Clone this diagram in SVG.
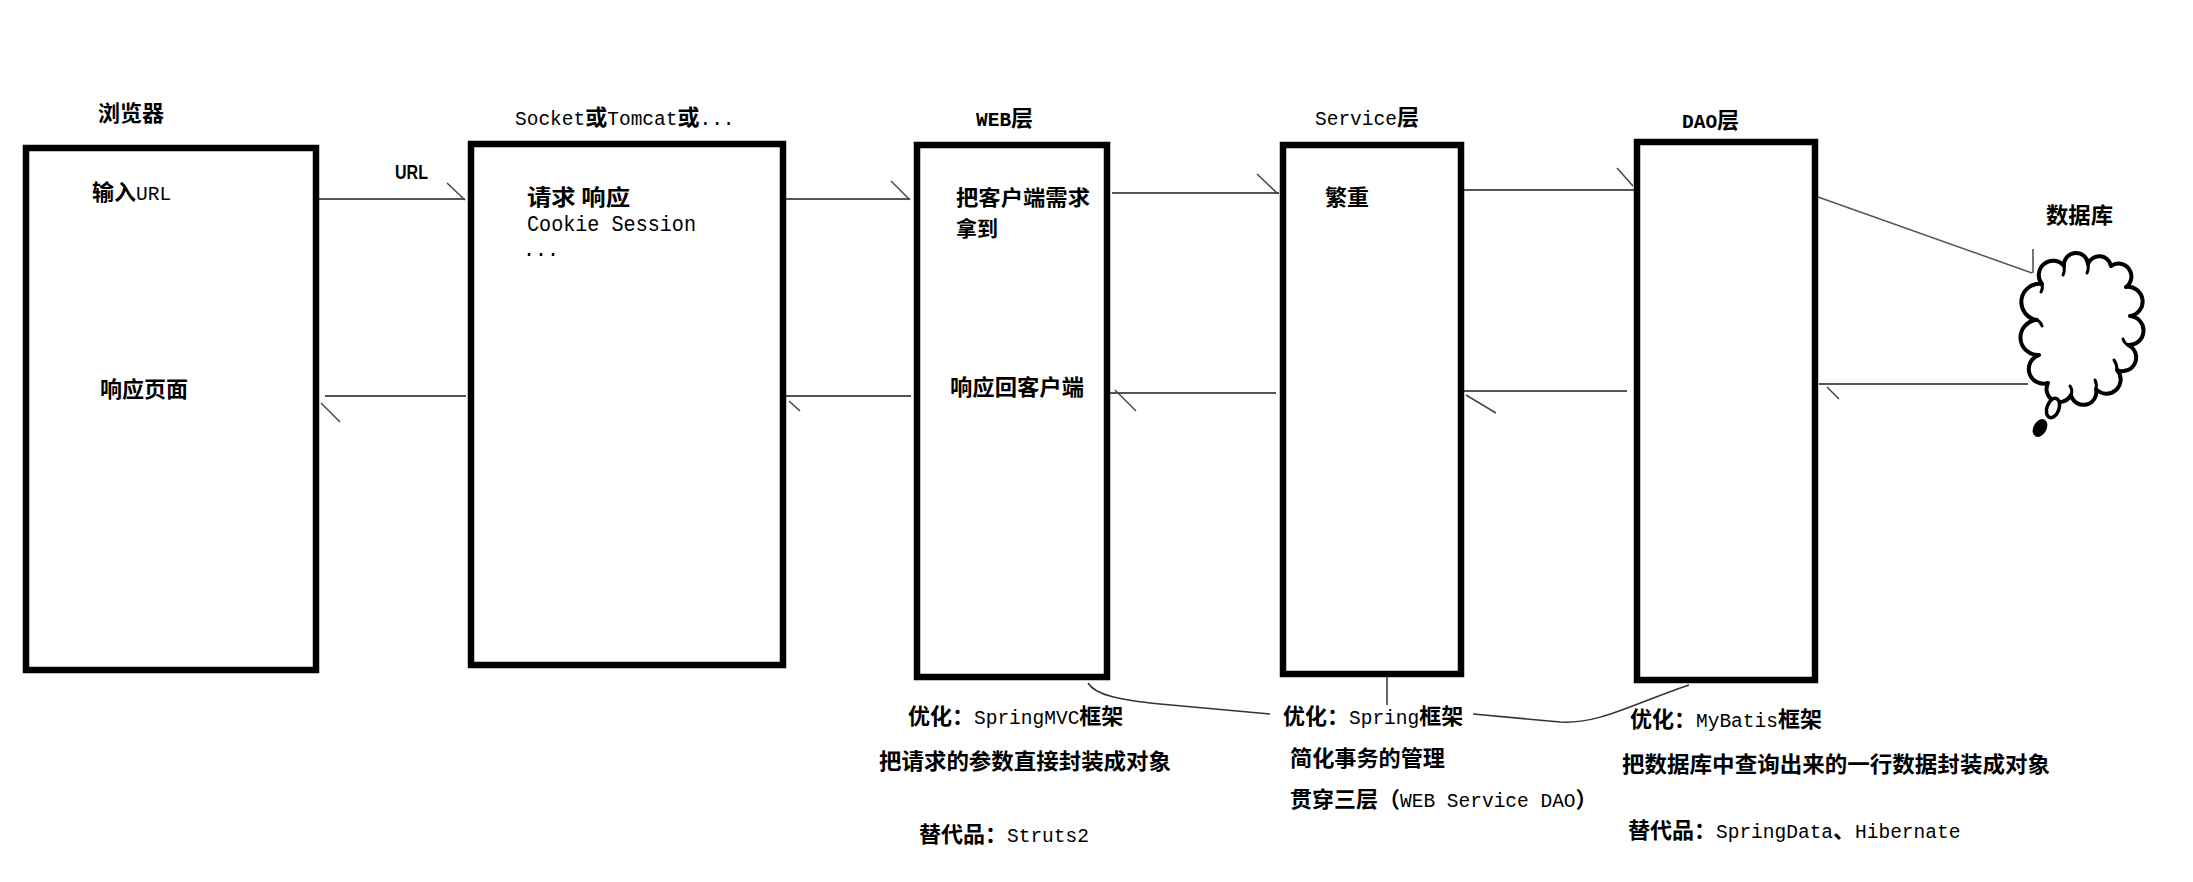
<svg xmlns="http://www.w3.org/2000/svg" width="2193" height="882" viewBox="0 0 2193 882">
<style>
.t{font-family:"Liberation Mono","Noto Sans CJK SC",monospace;font-size:19.5px;fill:#000}
.c{font-family:"Noto Sans CJK SC",sans-serif;font-weight:bold;font-size:22px}
.box{fill:#fff;stroke:#000;stroke-width:6.5}
.ln{stroke:#555;stroke-width:2;fill:none}
.barb{stroke:#444;stroke-width:1.5;fill:none}
.cv{stroke:#333;stroke-width:1.5;fill:none}
.cloud{fill:#fff;stroke:#000;stroke-width:4;stroke-linejoin:round}
.hook{fill:none;stroke:#000;stroke-width:3;stroke-linecap:round}
</style>
<rect width="2193" height="882" fill="#fff"/>

<g id="connectors">
  <path class="ln" d="M319,199 H465"/><path class="barb" d="M447,183 L465,200"/>
  <text x="395" y="179" textLength="33" lengthAdjust="spacingAndGlyphs" style="font-family:'Liberation Sans',sans-serif;font-weight:bold;font-size:20px">URL</text>
  <path class="ln" d="M325,396 H466"/><path class="barb" d="M321,403 L340,422"/>
  <path class="ln" d="M786,199 H910"/><path class="barb" d="M891,181 L910,200"/>
  <path class="ln" d="M786,396 H911"/><path class="barb" d="M789,401 L800,411"/>
  <path class="ln" d="M1112,193 H1279"/><path class="barb" d="M1257,174 L1278,194"/>
  <path class="ln" d="M1104,393 H1276"/><path class="barb" d="M1115,390 L1136,411"/>
  <path class="ln" d="M1464,190 H1634"/><path class="barb" d="M1617,168 L1633,186"/>
  <path class="ln" d="M1464,391 H1627"/><path class="barb" d="M1466,395 L1496,413"/>
  <path class="ln" d="M1818,197 L2032,273" style="stroke-width:1.5"/><path class="barb" d="M2033,249 L2033,273"/>
  <path class="ln" d="M1819,384 H2028"/><path class="barb" d="M1827,387 L1839,399"/>
  <path class="cv" d="M1088,683 C1095,695 1120,700 1160,704 L1270,714"/>
  <path class="cv" d="M1387,677 V705"/>
  <path class="cv" d="M1473,714 L1560,722 C1600,724 1630,705 1689,685"/>
</g>

<g id="browser">
  <rect class="box" x="26" y="148" width="290" height="522"/>
  <text class="c" x="98" y="121">浏览器</text>
  <text class="t" x="92" y="200"><tspan class="c">输入</tspan>URL</text>
  <text class="c" x="100" y="397" textLength="88" lengthAdjust="spacingAndGlyphs">响应页面</text>
</g>

<g id="socket">
  <rect class="box" x="471" y="144" width="312" height="521"/>
  <text class="t" x="515" y="125">Socket<tspan class="c">或</tspan>Tomcat<tspan class="c">或</tspan>...</text>
  <text class="c" x="527" y="205" textLength="103" lengthAdjust="spacingAndGlyphs">请求 响应</text>
  <text class="t" x="527" y="231" textLength="169" lengthAdjust="spacingAndGlyphs" style="font-size:22px">Cookie Session</text>
  <text class="t" x="523" y="256" style="font-size:20px">...</text>
</g>

<g id="web">
  <rect class="box" x="917" y="145" width="190" height="532"/>
  <text class="t" x="976" y="126" style="font-weight:bold">WEB<tspan class="c">层</tspan></text>
  <text class="c" x="956" y="205" textLength="134" lengthAdjust="spacingAndGlyphs" style="font-size:21px">把客户端需求</text>
  <text class="c" x="956" y="236" style="font-size:21px">拿到</text>
  <text class="c" x="950" y="395" textLength="134" lengthAdjust="spacingAndGlyphs">响应回客户端</text>
</g>

<g id="service">
  <rect class="box" x="1283" y="145" width="178" height="529"/>
  <text class="t" x="1315" y="125">Service<tspan class="c">层</tspan></text>
  <text class="c" x="1325" y="205">繁重</text>
</g>

<g id="dao">
  <rect class="box" x="1637" y="142" width="178" height="538"/>
  <text class="t" x="1682" y="128" style="font-weight:bold">DAO<tspan class="c">层</tspan></text>
</g>

<g id="database">
  <path class="cloud" d="M2042,284 A12,12 0 0 1 2064,266 A12,12 0 0 1 2088,264 A12,12 0 0 1 2111,266 A12,12 0 0 1 2126,287 A12,12 0 0 1 2130,316 A12,12 0 0 1 2128,345 A12,12 0 0 1 2117,370 A12,12 0 0 1 2096,389 A12,12 0 0 1 2071,395 A12,12 0 0 1 2048,383 A12,12 0 0 1 2039,355 A12,12 0 0 1 2037,320 A12,12 0 0 1 2042,284 Z"/>
  <path class="hook" d="M2064,266 q1,5 -1,9"/>
  <path class="hook" d="M2088,264 q1,5 -1,9"/>
  <path class="hook" d="M2042,284 q1,5 -1,8"/>
  <path class="hook" d="M2037,320 q4,2 5,6"/>
  <path class="hook" d="M2117,370 q0,-6 -3,-10"/>
  <path class="hook" d="M2128,345 q-4,-2 -5,-6"/>
  <path class="hook" d="M2096,389 q1,-5 -1,-9"/>
  <path class="hook" d="M2071,395 q2,-5 -1,-9"/>
  <ellipse cx="2053" cy="408" rx="6" ry="10" transform="rotate(20 2053 408)" fill="#fff" stroke="#000" stroke-width="3.5"/>
  <ellipse cx="2040" cy="428" rx="5" ry="8" transform="rotate(30 2040 428)" fill="#000" stroke="#000" stroke-width="3"/>
  <text class="c" x="2046" y="223" textLength="67" lengthAdjust="spacingAndGlyphs">数据库</text>
</g>

<g id="web-notes">
  <text class="t" x="908" y="724"><tspan class="c">优化：</tspan>SpringMVC<tspan class="c">框架</tspan></text>
  <text class="c" x="879" y="769" textLength="292" lengthAdjust="spacingAndGlyphs">把请求的参数直接封装成对象</text>
  <text class="t" x="919" y="842"><tspan class="c">替代品：</tspan>Struts2</text>
</g>

<g id="service-notes">
  <text class="t" x="1283" y="724"><tspan class="c">优化：</tspan>Spring<tspan class="c">框架</tspan></text>
  <text class="c" x="1290" y="766" textLength="155" lengthAdjust="spacingAndGlyphs">简化事务的管理</text>
  <text class="t" x="1290" y="807"><tspan class="c">贯穿三层（</tspan>WEB Service DAO<tspan class="c">）</tspan></text>
</g>

<g id="dao-notes">
  <text class="t" x="1630" y="727"><tspan class="c">优化：</tspan>MyBatis<tspan class="c">框架</tspan></text>
  <text class="c" x="1622" y="772" textLength="428" lengthAdjust="spacingAndGlyphs">把数据库中查询出来的一行数据封装成对象</text>
  <text class="t" x="1628" y="838"><tspan class="c">替代品：</tspan>SpringData<tspan class="c">、</tspan>Hibernate</text>
</g>
</svg>
